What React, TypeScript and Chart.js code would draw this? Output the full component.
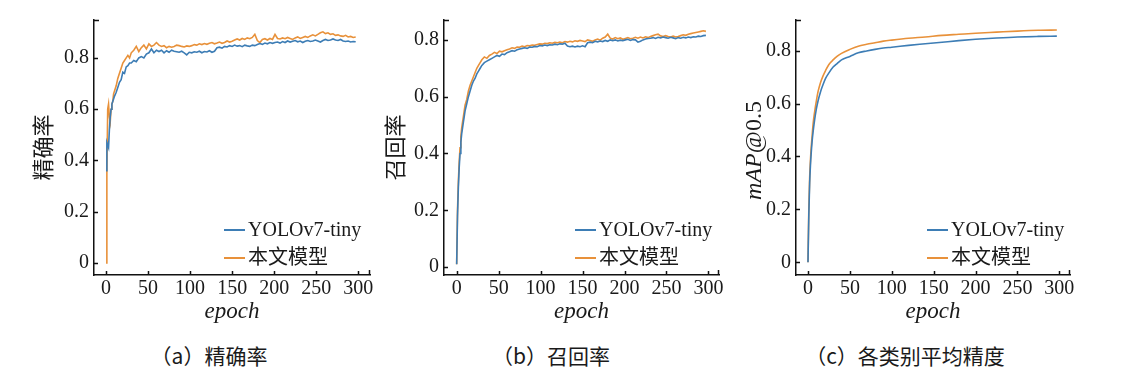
import React, { useEffect, useRef } from "react";
import { Chart, registerables } from "chart.js";

Chart.register(...registerables);

const seriesNames = ["YOLOv7-tiny", "本文模型"];
const seriesColors = ["#3d7db5", "#e8913a"];
const xTickValues = [0, 50, 100, 150, 200, 250, 300];
const yTickValues = [0, 0.2, 0.4, 0.6, 0.8];
const captions = ["（a）精确率", "（b）召回率", "（c）各类别平均精度"];
const yTitles = ["精确率", "召回率", "mAP@0.5"];
const xTitle = "epoch";

const epochsAB = [
  0, 1, 2, 3, 4, 5, 6, 7, 8, 9, 10, 12, 14, 16, 18, 20, 22, 24, 26, 28,
  30, 33, 36, 39, 42, 45, 48, 51, 54, 57, 60, 63, 66, 69, 72, 75, 78, 81, 84, 87,
  90, 93, 96, 99, 102, 105, 108, 111, 114, 117, 120, 123, 126, 129, 132, 135, 138, 141, 144, 147,
  150, 153, 156, 159, 162, 165, 168, 171, 174, 177, 180, 183, 186, 189, 192, 195, 198, 201, 204, 207,
  210, 213, 216, 219, 222, 225, 228, 231, 234, 237, 240, 243, 246, 249, 252, 255, 258, 261, 264, 267,
  270, 273, 276, 279, 282, 285, 288, 291, 294, 297,
];

const precisionYolo = [
  0.36, 0.47, 0.46, 0.45, 0.52, 0.57, 0.6, 0.62, 0.63, 0.64, 0.65, 0.665, 0.685, 0.705, 0.715, 0.745, 0.74, 0.765, 0.77, 0.78,
  0.78, 0.79, 0.785, 0.8, 0.805, 0.8, 0.815, 0.82, 0.835, 0.82,
  0.83, 0.825, 0.83, 0.82, 0.828, 0.822, 0.83, 0.826, 0.824, 0.822,
  0.826, 0.82, 0.812, 0.822, 0.82, 0.824, 0.822, 0.826, 0.82, 0.825,
  0.823, 0.828, 0.822, 0.826, 0.84, 0.842, 0.838, 0.845, 0.843, 0.848,
  0.845, 0.85, 0.846, 0.848, 0.844, 0.85, 0.847, 0.845, 0.85, 0.848,
  0.852, 0.856, 0.853, 0.858, 0.855, 0.86, 0.857, 0.86, 0.862, 0.858,
  0.864, 0.86, 0.866, 0.862, 0.865, 0.868, 0.863, 0.866, 0.86, 0.865,
  0.868, 0.864, 0.866, 0.87, 0.866, 0.862, 0.868, 0.872, 0.868, 0.87,
  0.874, 0.87, 0.868, 0.872, 0.866, 0.864, 0.866, 0.862, 0.864, 0.863,
];

const precisionOurs = [
  0.0, 0.35, 0.6, 0.62, 0.57, 0.55, 0.6, 0.62, 0.63, 0.66, 0.67, 0.69, 0.72, 0.74, 0.76, 0.78, 0.79, 0.8, 0.81, 0.8,
  0.82, 0.83, 0.845, 0.825, 0.84, 0.85, 0.835, 0.855, 0.845, 0.85,
  0.86, 0.85, 0.845, 0.848, 0.84, 0.845, 0.842, 0.845, 0.85, 0.848,
  0.845, 0.843, 0.847, 0.845, 0.848, 0.852, 0.85, 0.855, 0.852, 0.856,
  0.853, 0.857, 0.86, 0.855, 0.858, 0.862, 0.857, 0.86, 0.866, 0.862,
  0.865, 0.87, 0.874, 0.87, 0.876, 0.872, 0.878, 0.875, 0.88, 0.892,
  0.868, 0.86, 0.872, 0.875, 0.87, 0.876, 0.872, 0.892, 0.876, 0.874,
  0.878, 0.875, 0.88, 0.876, 0.872, 0.878, 0.882, 0.876, 0.88, 0.884,
  0.88, 0.886, 0.89, 0.886, 0.892, 0.898, 0.902, 0.895, 0.898, 0.892,
  0.894, 0.888, 0.89, 0.886, 0.884, 0.888, 0.882, 0.884, 0.88, 0.882,
];

const recallYolo = [
  0.01, 0.18, 0.28, 0.35, 0.4, 0.44, 0.47, 0.49, 0.51, 0.53, 0.55, 0.575, 0.6, 0.62, 0.64, 0.655, 0.665, 0.68, 0.69, 0.7,
  0.71, 0.72, 0.725, 0.73, 0.735, 0.74, 0.745, 0.742, 0.75, 0.748,
  0.755, 0.758, 0.762, 0.76, 0.765, 0.768, 0.77, 0.772, 0.77, 0.775,
  0.774, 0.777, 0.776, 0.78, 0.779, 0.782, 0.78, 0.783, 0.782, 0.785,
  0.783, 0.786, 0.785, 0.788, 0.778, 0.776, 0.778, 0.775, 0.778, 0.776,
  0.779, 0.776, 0.79, 0.792, 0.79, 0.795, 0.793, 0.796, 0.794, 0.798,
  0.795, 0.8, 0.797, 0.8, 0.796, 0.799, 0.797, 0.8, 0.802, 0.798,
  0.801, 0.8, 0.792, 0.795, 0.8, 0.803, 0.805, 0.806, 0.808, 0.805,
  0.809, 0.807, 0.81, 0.808, 0.806, 0.809, 0.807, 0.804, 0.808, 0.806,
  0.809, 0.807, 0.81, 0.808, 0.811, 0.81, 0.813, 0.812, 0.815, 0.816,
];

const recallOurs = [
  0.01, 0.2, 0.3, 0.37, 0.42, 0.46, 0.49, 0.51, 0.53, 0.55, 0.57, 0.59, 0.62, 0.64, 0.655, 0.67, 0.685, 0.7, 0.71, 0.72,
  0.73, 0.74, 0.735, 0.745, 0.75, 0.756, 0.752, 0.76, 0.758, 0.762,
  0.765, 0.768, 0.772, 0.77, 0.775, 0.774, 0.778, 0.776, 0.78, 0.779,
  0.782, 0.781, 0.784, 0.786, 0.785, 0.788, 0.787, 0.79, 0.788, 0.791,
  0.79, 0.792, 0.79, 0.794, 0.792, 0.795, 0.793, 0.797, 0.795, 0.798,
  0.796, 0.794, 0.8, 0.798, 0.795, 0.8, 0.803, 0.799, 0.806, 0.81,
  0.82, 0.806, 0.803, 0.808, 0.804, 0.807, 0.802, 0.805, 0.808, 0.804,
  0.806, 0.809, 0.806, 0.81, 0.807, 0.811, 0.808, 0.812, 0.815, 0.818,
  0.82, 0.814, 0.812, 0.815, 0.812, 0.81, 0.813, 0.81, 0.812, 0.815,
  0.818, 0.816, 0.82, 0.822, 0.824, 0.826, 0.828, 0.83, 0.832, 0.83,
];

const epochsC = [
  0, 1, 2, 3, 4, 5, 6, 8, 10, 12, 15, 18, 21, 25, 30, 35, 40, 50, 60, 70,
  80, 90, 100, 120, 140, 160, 180, 200, 225, 250, 275, 297,
];

const mapYolo = [
  0.0, 0.18, 0.3, 0.37, 0.42, 0.46, 0.49, 0.54, 0.58, 0.61, 0.645, 0.672, 0.695, 0.716, 0.738, 0.752, 0.765, 0.778, 0.792, 0.799,
  0.805, 0.81, 0.813, 0.82, 0.826, 0.832, 0.838, 0.843, 0.848, 0.852, 0.854, 0.855,
];

const mapOurs = [
  0.0, 0.2, 0.32, 0.39, 0.44, 0.48, 0.52, 0.57, 0.61, 0.645, 0.68, 0.705, 0.725, 0.748, 0.765, 0.779, 0.79, 0.805, 0.817, 0.824,
  0.83, 0.836, 0.84, 0.847, 0.852, 0.858, 0.862, 0.866, 0.87, 0.874, 0.877, 0.878,
];

const SERIF = '"Liberation Serif", "Noto Sans CJK SC", serif';

const insideLegend = {
  id: "insideLegend",
  afterDraw(chart: any, _args: any, opts: any) {
    const { ctx, chartArea } = chart;
    ctx.save();
    ctx.font = `20px ${SERIF}`;
    ctx.textBaseline = "middle";
    ctx.textAlign = "left";
    const rows = [45, 17];
    chart.data.datasets.forEach((ds: any, i: number) => {
      const y = chartArea.bottom - rows[i];
      const x0 = chartArea.right - opts.offset;
      ctx.strokeStyle = ds.borderColor;
      ctx.lineWidth = 2;
      ctx.beginPath();
      ctx.moveTo(x0, y);
      ctx.lineTo(x0 + 21, y);
      ctx.stroke();
      ctx.fillStyle = "#1a1a1a";
      ctx.fillText(ds.label, x0 + 24, y + 1);
    });
    ctx.restore();
  },
};

// Draws a y-axis title made of an italic part and an upright part (e.g. "mAP" + "@0.5").
const mixedYTitle = {
  id: "mixedYTitle",
  afterDraw(chart: any, _args: any, opts: any) {
    if (!opts || !opts.parts) return;
    const { ctx, chartArea } = chart;
    ctx.save();
    const fonts = opts.parts.map((p: any) => `${p.italic ? "italic " : ""}${opts.size}px ${SERIF}`);
    let total = 0;
    const widths = opts.parts.map((p: any, i: number) => {
      ctx.font = fonts[i];
      const w = ctx.measureText(p.text).width;
      total += w;
      return w;
    });
    ctx.translate(opts.x, (chartArea.top + chartArea.bottom) / 2 + 3);
    ctx.rotate(-Math.PI / 2);
    ctx.textBaseline = "middle";
    ctx.textAlign = "left";
    ctx.fillStyle = "#1a1a1a";
    let x = -total / 2;
    opts.parts.forEach((p: any, i: number) => {
      ctx.font = fonts[i];
      ctx.fillText(p.text, x, 0);
      x += widths[i];
    });
    ctx.restore();
  },
};

const innerTicks = {
  id: "innerTicks",
  afterDraw(chart: any) {
    const { ctx, chartArea, scales } = chart;
    ctx.save();
    ctx.strokeStyle = "#111";
    ctx.lineWidth = 1.5;
    ctx.beginPath();
    scales.y.ticks.forEach((t: any) => {
      const y = Math.round(scales.y.getPixelForValue(t.value)) + 0.5;
      ctx.moveTo(chartArea.left, y);
      ctx.lineTo(chartArea.left + 4, y);
    });
    scales.x.ticks.forEach((t: any) => {
      const x = Math.round(scales.x.getPixelForValue(t.value)) + 0.5;
      ctx.moveTo(x, chartArea.bottom);
      ctx.lineTo(x, chartArea.bottom - 4);
    });
    ctx.moveTo(chartArea.left, chartArea.top + 0.5);
    ctx.lineTo(chartArea.left + 5, chartArea.top + 0.5);
    ctx.moveTo(chartArea.right - 0.5, chartArea.bottom);
    ctx.lineTo(chartArea.right - 0.5, chartArea.bottom - 5);
    ctx.stroke();
    ctx.restore();
  },
};

type PanelDef = {
  left: number;
  width: number;
  yAxisWidth: number;
  rightPad: number;
  xMin: number;
  xMax: number;
  yMin: number;
  yMax: number;
  yTitle: string;
  yTitleFont: any;
  yTitlePad: number;
  mixedTitle: any;
  legendOffset: number;
  xs: number[];
  series: number[][];
  smooth: boolean;
};

const panels: PanelDef[] = [
  {
    left: 0, width: 380, yAxisWidth: 94, rightPad: 10,
    xMin: -14.3, xMax: 314, yMin: -0.047, yMax: 0.948,
    yTitle: yTitles[0], yTitleFont: { family: SERIF, size: 22 }, yTitlePad: 32, mixedTitle: null,
    legendOffset: 146, xs: epochsAB, series: [precisionYolo, precisionOurs], smooth: false,
  },
  {
    left: 380, width: 360, yAxisWidth: 64, rightPad: 21,
    xMin: -15.1, xMax: 312.6, yMin: -0.028, yMax: 0.87,
    yTitle: yTitles[1], yTitleFont: { family: SERIF, size: 22 }, yTitlePad: 4, mixedTitle: null,
    legendOffset: 144, xs: epochsAB, series: [recallYolo, recallOurs], smooth: false,
  },
  {
    left: 740, width: 404, yAxisWidth: 56, rightPad: 74,
    xMin: -14.3, xMax: 312.7, yMin: -0.048, yMax: 0.916,
    yTitle: yTitles[2], yTitleFont: { family: SERIF, size: 24 }, yTitlePad: 1,
    mixedTitle: { x: 15, size: 24, parts: [{ text: "mAP", italic: true }, { text: "@0.5", italic: false }] },
    legendOffset: 143, xs: epochsC, series: [mapYolo, mapOurs], smooth: true,
  },
];

const CANVAS_H = 330;

function Panel({ def }: { def: PanelDef }) {
  const ref = useRef<HTMLCanvasElement | null>(null);
  useEffect(() => {
    if (!ref.current) return;
    const datasets = def.series.map((vals, i) => ({
      label: seriesNames[i],
      data: def.xs.map((x, j) => ({ x, y: vals[j] })),
      borderColor: seriesColors[i],
      backgroundColor: seriesColors[i],
      borderWidth: 1.6,
      pointRadius: 0,
      fill: false,
      cubicInterpolationMode: def.smooth ? ("monotone" as const) : ("default" as const),
      tension: 0,
    }));
    const chart = new Chart(ref.current, {
      type: "line",
      data: { datasets },
      plugins: [innerTicks, insideLegend, mixedYTitle],
      options: {
        animation: false,
        responsive: false,
        devicePixelRatio: 1,
        layout: { padding: { left: 0, top: 20, right: def.rightPad, bottom: 0 } },
        plugins: {
          legend: { display: false },
          tooltip: { enabled: false },
          insideLegend: { offset: def.legendOffset },
          mixedYTitle: def.mixedTitle || {},
        } as any,
        scales: {
          x: {
            type: "linear",
            min: def.xMin,
            max: def.xMax,
            afterBuildTicks: (s: any) => {
              s.ticks = xTickValues.map((v) => ({ value: v }));
            },
            afterFit: (s: any) => {
              s.height = CANVAS_H - 275;
            },
            grid: { display: false, drawTicks: false },
            border: { display: true, color: "#111", width: 1.5 },
            ticks: {
              color: "#1a1a1a",
              font: { family: SERIF, size: 20 },
              padding: 2,
              maxRotation: 0,
              autoSkip: false,
              callback: (v: any) => String(v),
            },
            title: {
              display: true,
              text: xTitle,
              color: "#1a1a1a",
              font: { family: SERIF, size: 23, style: "italic" },
              padding: { top: 0, bottom: 4 },
            },
          },
          y: {
            type: "linear",
            min: def.yMin,
            max: def.yMax,
            afterBuildTicks: (s: any) => {
              s.ticks = yTickValues.map((v) => ({ value: v }));
            },
            afterFit: (s: any) => {
              s.width = def.yAxisWidth;
            },
            grid: { display: false, drawTicks: false },
            border: { display: true, color: "#111", width: 1.5 },
            ticks: {
              color: "#1a1a1a",
              font: { family: SERIF, size: 20 },
              padding: 5,
              autoSkip: false,
              callback: (v: any) => (v === 0 ? "0" : Number(v).toFixed(1)),
            },
            title: {
              display: !def.mixedTitle,
              text: def.yTitle,
              color: "#1a1a1a",
              font: def.yTitleFont,
              padding: { top: def.yTitlePad, bottom: 0 },
            },
          },
        },
      },
    });
    return () => chart.destroy();
  }, [def]);
  return (
    <canvas
      ref={ref}
      width={def.width}
      height={CANVAS_H}
      style={{ position: "absolute", left: def.left, top: 0, width: def.width, height: CANVAS_H }}
    />
  );
}

const captionCenters = [209, 551, 905];

export default function App() {
  return (
    <div
      style={{
        position: "fixed",
        left: 0,
        top: 0,
        width: 1144,
        height: 388,
        background: "#fff",
        overflow: "hidden",
      }}
    >
      {panels.map((p, i) => (
        <Panel key={i} def={p} />
      ))}
      {captions.map((c, i) => (
        <div
          key={c}
          style={{
            position: "absolute",
            left: captionCenters[i] - 150,
            top: 341,
            width: 300,
            textAlign: "center",
            fontFamily: '"Noto Sans CJK SC", sans-serif',
            fontSize: 21,
            lineHeight: "28px",
            color: "#1a1a1a",
          }}
        >
          {c}
        </div>
      ))}
    </div>
  );
}
